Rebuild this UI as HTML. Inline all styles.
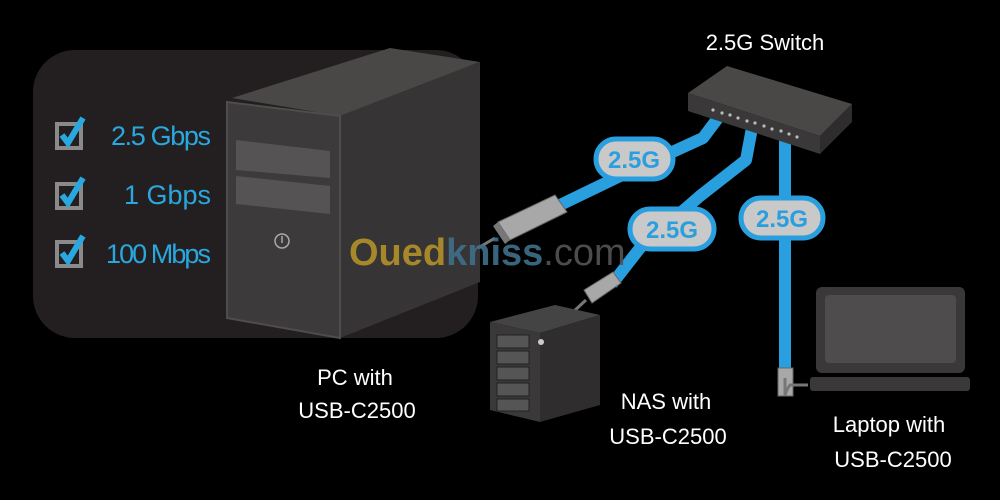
<!DOCTYPE html>
<html><head><style>
html,body{margin:0;padding:0;background:#000;width:1000px;height:500px;overflow:hidden}
svg{display:block}
text{font-family:"Liberation Sans",sans-serif}
</style></head><body>
<svg width="1000" height="500" viewBox="0 0 1000 500">
<rect width="1000" height="500" fill="#000"/>
<!-- panel -->
<rect x="33" y="50" width="445" height="288" rx="42" fill="#231f20"/>
<!-- checkboxes -->
<g>
 <g transform="translate(57,120)"><rect x="0" y="4" width="24" height="24" fill="none" stroke="#8a8a8a" stroke-width="4"/><path d="M5,15 L11,23 L26,-2" fill="none" stroke="#29a8e0" stroke-width="6"/></g>
 <g transform="translate(57,180)"><rect x="0" y="4" width="24" height="24" fill="none" stroke="#8a8a8a" stroke-width="4"/><path d="M5,15 L11,23 L26,-2" fill="none" stroke="#29a8e0" stroke-width="6"/></g>
 <g transform="translate(57,238)"><rect x="0" y="4" width="24" height="24" fill="none" stroke="#8a8a8a" stroke-width="4"/><path d="M5,15 L11,23 L26,-2" fill="none" stroke="#29a8e0" stroke-width="6"/></g>
</g>
<g fill="#29a8e0" font-size="27" text-anchor="end">
 <text x="211" y="145" textLength="100">2.5 Gbps</text>
 <text x="211" y="204">1 Gbps</text>
 <text x="210" y="263" textLength="104" letter-spacing="-1">100 Mbps</text>
</g>
<!-- PC tower -->
<polygon points="232,98 390,48 480,62 340,116" fill="#4a4747"/>
<polygon points="340,116 480,62 480,282 340,338" fill="#363434"/>
<polygon points="227,102 340,116 340,338 227,318" fill="#3c3a3a" stroke="#4e4c4c" stroke-width="2"/>
<polygon points="236,140 330,151 330,178 236,170" fill="#555353"/>
<polygon points="236,176 330,186 330,214 236,204" fill="#555353"/>
<circle cx="282" cy="241" r="7" fill="none" stroke="#aaa" stroke-width="1.5"/>
<line x1="282" y1="236" x2="282" y2="243" stroke="#aaa" stroke-width="1.5"/>
<!-- cables -->
<g fill="none" stroke="#2a9fdf" stroke-width="12" stroke-linejoin="round">
 <path d="M718,118 L703,138 L620,176 L560,205"/>
 <path d="M752,128 L746,160 L700,196 L640,248 L612,284"/>
 <path d="M785,140 L785,372"/>
</g>
<!-- adapters -->
<g>
 <polygon points="498,222 555,195 567,212 510,240" fill="#a8a8a8" stroke="#666" stroke-width="1"/>
 <polygon points="498,222 510,240 505,244 493,226" fill="#777"/>
 <path d="M495,238 L478,248" stroke="#777" stroke-width="3"/>
 <polygon points="584,290 613,272 621,283 592,303" fill="#a8a8a8" stroke="#666" stroke-width="1"/>
 <path d="M586,300 L573,312" stroke="#777" stroke-width="3"/>
 <rect x="778" y="368" width="15" height="28" fill="#a8a8a8" stroke="#666"/>
 <path d="M785,396 L785,378 M785,396 Q786,390 790,385 L808,385" fill="none" stroke="#777" stroke-width="3"/>
</g>
<!-- pills -->
<g>
 <rect x="596" y="139" width="77" height="40" rx="20" fill="#c9c9c9" stroke="#2a9fdf" stroke-width="5"/>
 <text x="634" y="168" font-size="24" font-weight="bold" fill="#2a9fdf" text-anchor="middle">2.5G</text>
 <rect x="630" y="209" width="84" height="40" rx="20" fill="#c9c9c9" stroke="#2a9fdf" stroke-width="5"/>
 <text x="672" y="238" font-size="24" font-weight="bold" fill="#2a9fdf" text-anchor="middle">2.5G</text>
 <rect x="741" y="198" width="82" height="40" rx="20" fill="#c9c9c9" stroke="#2a9fdf" stroke-width="5"/>
 <text x="782" y="227" font-size="24" font-weight="bold" fill="#2a9fdf" text-anchor="middle">2.5G</text>
</g>
<!-- switch -->
<polygon points="688,93 727,66 852,104 820,136" fill="#4a4747"/>
<polygon points="688,93 820,136 820,154 688,111" fill="#3a3838"/>
<polygon points="820,136 852,104 852,122 820,154" fill="#2e2c2c"/>
<g fill="#bbb">
 <circle cx="713" cy="110" r="1.6"/><circle cx="722" cy="113" r="1.6"/><circle cx="730" cy="115" r="1.6"/><circle cx="738" cy="118" r="1.6"/><circle cx="747" cy="121" r="1.6"/><circle cx="755" cy="123" r="1.6"/><circle cx="764" cy="126" r="1.6"/><circle cx="772" cy="129" r="1.6"/><circle cx="781" cy="131" r="1.6"/><circle cx="789" cy="134" r="1.6"/><circle cx="797" cy="137" r="1.6"/>
</g>
<!-- NAS -->
<polygon points="490,322 555,305 600,315 540,333" fill="#444"/>
<polygon points="540,333 600,315 600,405 540,422" fill="#2f2d2d"/>
<polygon points="490,322 540,333 540,422 490,410" fill="#3a3838"/>
<g fill="#555" stroke="#222" stroke-width="1">
 <rect x="497" y="335" width="32" height="13"/><rect x="497" y="351" width="32" height="13"/><rect x="497" y="367" width="32" height="13"/><rect x="497" y="383" width="32" height="13"/><rect x="497" y="399" width="32" height="12"/>
</g>
<circle cx="541" cy="342" r="3" fill="#ccc"/>
<!-- laptop -->
<rect x="816" y="287" width="149" height="86" rx="6" fill="#3a3838"/>
<rect x="825" y="295" width="131" height="68" rx="4" fill="#4e4c4c"/>
<rect x="810" y="377" width="160" height="14" rx="3" fill="#3a3838"/>
<!-- watermark -->
<text x="349" y="265" font-size="38" font-weight="bold" fill="#b3922a" opacity="0.9">Oued<tspan fill="#3f6f8a">kniss</tspan><tspan fill="#555" font-weight="normal">.com</tspan></text>
<!-- labels -->
<g fill="#fff" font-size="22" text-anchor="middle">
 <text x="765" y="50">2.5G Switch</text>
 <text x="355" y="385">PC with</text>
 <text x="357" y="418">USB-C2500</text>
 <text x="666" y="409">NAS with</text>
 <text x="668" y="444">USB-C2500</text>
 <text x="889" y="432">Laptop with</text>
 <text x="893" y="467">USB-C2500</text>
</g>
</svg>
</body></html>
